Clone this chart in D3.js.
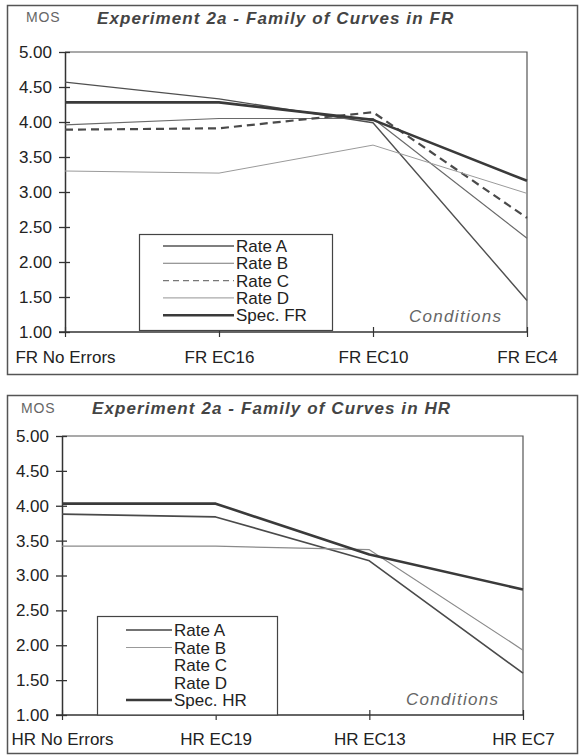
<!DOCTYPE html>
<html>
<head>
<meta charset="utf-8">
<script src="https://cdn.jsdelivr.net/npm/d3@7"></script>
<style>
  html, body { margin: 0; padding: 0; background: #fff; }
  svg { display: block; }
  text { font-family: "Liberation Sans", Arial, Helvetica, sans-serif; }
</style>
</head>
<body>
<svg id="chart" width="579" height="755"></svg>
<script>
// ---------- data ----------
const yTickValues = [1.0, 1.5, 2.0, 2.5, 3.0, 3.5, 4.0, 4.5, 5.0];

const frCategories = ["FR No Errors", "FR EC16", "FR EC10", "FR EC4"];
const frRateA = [4.57, 4.33, 3.99, 1.45];
const frRateB = [3.96, 4.05, 4.05, 2.34];
const frRateC = [3.89, 3.91, 4.14, 2.63];
const frRateD = [3.30, 3.27, 3.67, 2.98];
const frSpec  = [4.28, 4.28, 4.03, 3.16];

const hrCategories = ["HR No Errors", "HR EC19", "HR EC13", "HR EC7"];
const hrRateA = [3.88, 3.84, 3.21, 1.60];
const hrRateB = [3.42, 3.42, 3.37, 1.93];
const hrSpec  = [4.03, 4.03, 3.30, 2.80];

const legendLabelsFR = ["Rate A", "Rate B", "Rate C", "Rate D", "Spec. FR"];
const legendLabelsHR = ["Rate A", "Rate B", "Rate C", "Rate D", "Spec. HR"];

// ---------- styles ----------
const styles = {
  rateA: { stroke: "#505050", width: 1.4, dash: null, lstroke: "#555", lwidth: 1.3, ldash: null },
  rateB: { stroke: "#6a6a6a", width: 1.2, dash: null, lstroke: "#777", lwidth: 1.1, ldash: null },
  rateC: { stroke: "#4a4a4a", width: 2.2, dash: "8,5", lstroke: "#777", lwidth: 1.2, ldash: "6,4" },
  rateD: { stroke: "#9a9a9a", width: 1.0, dash: null, lstroke: "#aaa", lwidth: 1.1, ldash: null },
  spec:  { stroke: "#3a3a3a", width: 2.6, dash: null, lstroke: "#3a3a3a", lwidth: 2.4, ldash: null },
  hrA:   { stroke: "#4a4a4a", width: 1.6, dash: null, lstroke: "#444", lwidth: 1.6, ldash: null },
  hrB:   { stroke: "#8a8a8a", width: 1.2, dash: null, lstroke: "#999", lwidth: 1.1, ldash: null }
};

const svg = d3.select("#chart");

function drawPanel(cfg) {
  const g = svg.append("g");
  // outer frame
  g.append("rect")
    .attr("x", cfg.frame[0]).attr("y", cfg.frame[1])
    .attr("width", cfg.frame[2]).attr("height", cfg.frame[3])
    .attr("fill", "none").attr("stroke", "#555").attr("stroke-width", 1.5);

  const x = d3.scalePoint().domain(cfg.categories).range(cfg.xRange);
  const y = d3.scaleLinear().domain([1, 5]).range(cfg.yRange);
  const x0 = cfg.xRange[0], x1 = cfg.xRange[1];

  // plot box top & right borders
  g.append("path")
    .attr("d", `M${x0},${y(5)}H${x1}V${y(1)}`)
    .attr("fill", "none").attr("stroke", "#555").attr("stroke-width", 1.2);

  // y axis
  const yAxis = d3.axisLeft(y).tickValues(yTickValues)
    .tickFormat(d3.format(".2f")).tickSizeInner(6).tickSizeOuter(0).tickPadding(8);
  const ya = g.append("g").attr("transform", `translate(${x0},0)`).call(yAxis);
  ya.select(".domain").attr("stroke", "#333").attr("stroke-width", 1.5);
  ya.selectAll(".tick line").attr("stroke", "#333").attr("stroke-width", 1.3)
    .attr("x2", -6).attr("x1", 5);
  ya.selectAll(".tick text").attr("font-size", 17).attr("fill", "#222")
    .attr("font-family", "'Liberation Sans', Arial, sans-serif").attr("x", -13);

  // x axis
  const xAxis = d3.axisBottom(x).tickSizeInner(5).tickSizeOuter(0).tickPadding(10);
  const xa = g.append("g").attr("transform", `translate(0,${y(1)})`).call(xAxis);
  xa.select(".domain").attr("stroke", "#333").attr("stroke-width", 1.5)
    .attr("d", `M${x0 - 6},0H${x1}`);
  xa.selectAll(".tick line").attr("stroke", "#333").attr("stroke-width", 1.2)
    .attr("y1", -5).attr("y2", 5);
  xa.selectAll(".tick text").attr("font-size", 17).attr("fill", "#222")
    .attr("font-family", "'Liberation Sans', Arial, sans-serif")
    .attr("y", cfg.xLabelDy).attr("dy", 0);

  // series
  const line = d3.line().x((d, i) => x(cfg.categories[i])).y(d => y(d));
  cfg.series.forEach(s => {
    if (!s.style || !s.values) return;
    g.append("path").datum(s.values)
      .attr("d", line)
      .attr("fill", "none")
      .attr("stroke", s.style.stroke)
      .attr("stroke-width", s.style.width)
      .attr("stroke-dasharray", s.style.dash)
      .attr("stroke-linejoin", "round");
  });

  // legend
  const L = cfg.legend;
  g.append("rect").attr("x", L.box[0]).attr("y", L.box[1])
    .attr("width", L.box[2]).attr("height", L.box[3])
    .attr("fill", "#fff").attr("stroke", "#444").attr("stroke-width", 1.2);
  cfg.series.forEach((s, i) => {
    const cy = L.rowY[0] + i * L.rowStep;
    if (s.style) {
      g.append("line").attr("x1", L.lineX[0]).attr("x2", L.lineX[1])
        .attr("y1", cy).attr("y2", cy)
        .attr("stroke", s.style.lstroke).attr("stroke-width", s.style.lwidth)
        .attr("stroke-dasharray", s.style.ldash);
    }
    g.append("text").attr("x", L.textX).attr("y", cy + 6)
      .attr("font-size", 17).attr("fill", "#222").text(s.label);
  });

  // "Conditions"
  g.append("text").attr("x", cfg.condPos[0]).attr("y", cfg.condPos[1])
    .attr("font-size", 17).attr("font-style", "italic").attr("fill", "#666")
    .attr("letter-spacing", 1.3).text("Conditions");

  // MOS
  g.append("text").attr("x", cfg.mosPos[0]).attr("y", cfg.mosPos[1])
    .attr("font-size", 14).attr("fill", "#666").attr("letter-spacing", 0.8).text("MOS");

  // title
  g.append("text").attr("x", cfg.titlePos[0]).attr("y", cfg.titlePos[1])
    .attr("font-size", 17).attr("font-style", "italic").attr("font-weight", "bold")
    .attr("fill", "#444").attr("letter-spacing", 1.1).text(cfg.title);
}

drawPanel({
  frame: [7.5, 5.5, 570, 369],
  categories: frCategories,
  xRange: [65, 527],
  yRange: [332, 52],
  xLabelDy: 31,
  title: "Experiment 2a - Family of Curves in FR",
  titlePos: [97, 24],
  mosPos: [26, 22],
  condPos: [409, 322],
  series: [
    { label: legendLabelsFR[0], values: frRateA, style: styles.rateA },
    { label: legendLabelsFR[1], values: frRateB, style: styles.rateB },
    { label: legendLabelsFR[2], values: frRateC, style: styles.rateC },
    { label: legendLabelsFR[3], values: frRateD, style: styles.rateD },
    { label: legendLabelsFR[4], values: frSpec,  style: styles.spec }
  ],
  legend: { box: [139.5, 234.5, 193, 96], rowY: [246], rowStep: 17.3, lineX: [163, 234], textX: 236 }
});

drawPanel({
  frame: [7.5, 395.5, 570, 358],
  categories: hrCategories,
  xRange: [62, 523],
  yRange: [715, 436],
  xLabelDy: 30,
  title: "Experiment 2a - Family of Curves in HR",
  titlePos: [92, 414],
  mosPos: [21, 413],
  condPos: [406, 705],
  series: [
    { label: legendLabelsHR[0], values: hrRateA, style: styles.hrA },
    { label: legendLabelsHR[1], values: hrRateB, style: styles.hrB },
    { label: legendLabelsHR[2], values: null, style: null },
    { label: legendLabelsHR[3], values: null, style: null },
    { label: legendLabelsHR[4], values: hrSpec, style: styles.spec }
  ],
  legend: { box: [97.5, 616.5, 180, 98.5], rowY: [630], rowStep: 17.5, lineX: [126, 172], textX: 174 }
});
</script>
</body>
</html>
